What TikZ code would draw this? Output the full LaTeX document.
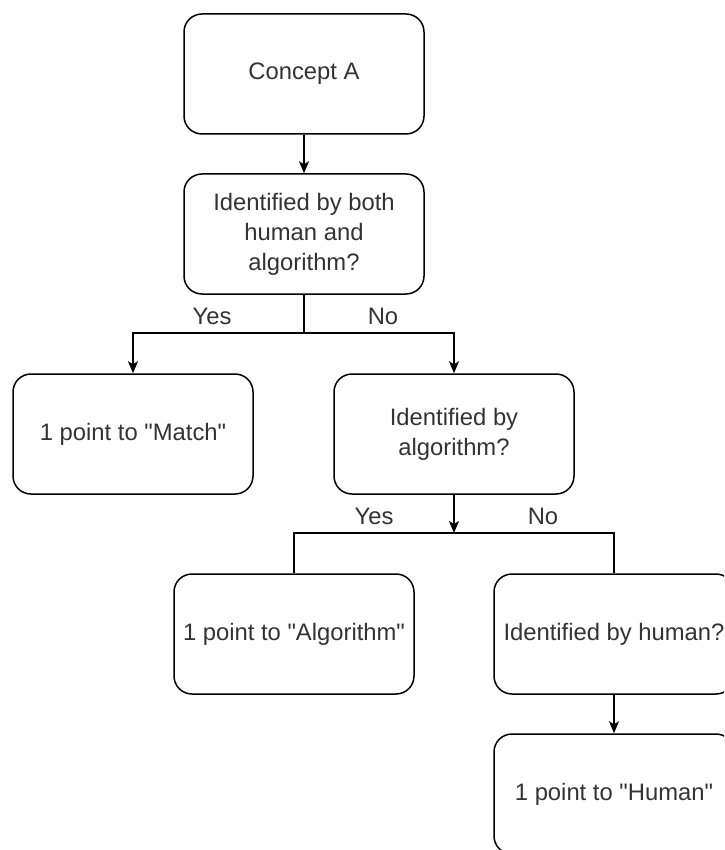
\documentclass[tikz,border=0pt]{standalone}
\usepackage{fontspec}
\setmainfont{Liberation Sans}[Ligatures=TeXOff]
\usetikzlibrary{arrows.meta}
\definecolor{txt}{HTML}{333333}
\tikzset{
  box/.style={draw=black, line width=1.5pt, rounded corners=18pt, rectangle,
    minimum width=240pt, minimum height=120pt, inner sep=0pt, align=center,
    text=txt, font=\fontsize{23.8}{30}\selectfont},
  conn/.style={draw=black, line width=1.5pt},
  arr/.style={conn, -{Stealth[length=12pt,width=10pt,inset=3pt]}},
  lbl/.style={text=txt, font=\fontsize{23.8}{30}\selectfont, inner sep=0pt}
}
\begin{document}
\begin{tikzpicture}[x=1pt,y=-1pt]
\useasboundingbox (0,0) rectangle (724,850);
\clip (0,0) rectangle (724,850);
\fill[white] (0,0) rectangle (724,850);
\node[box] (a) at (304,74) {Concept A};
\node[box] (b) at (304,234) {Identified by both\\human and\\algorithm?};
\node[box] (m) at (133,434) {1 point to "Match"};
\node[box] (c) at (454,434) {Identified by\\algorithm?};
\node[box] (g) at (294,634) {1 point to "Algorithm"};
\node[box] (h) at (614,634) {Identified by human?};
\node[box] (u) at (614,794) {1 point to "Human"};
\coordinate (j1) at (304,333);
\coordinate (j2) at (454,533);
\draw[arr] (a.south) -- (b.north);
\draw[conn] (b.south) -- (j1);
\draw[arr] (j1) -| (m.north);
\draw[arr] (j1) -| (c.north);
\draw[arr] (c.south) -- (j2);
\draw[conn] (j2) -| (g.north);
\draw[conn] (j2) -| (h.north);
\draw[arr] (h.south) -- (u.north);
\node[lbl] (y1) at (212,316) {Yes};
\node[lbl] (n1) at (383,316) {No};
\node[lbl] (y2) at (374,516) {Yes};
\node[lbl] (n2) at (543,516) {No};
\end{tikzpicture}
\end{document}
